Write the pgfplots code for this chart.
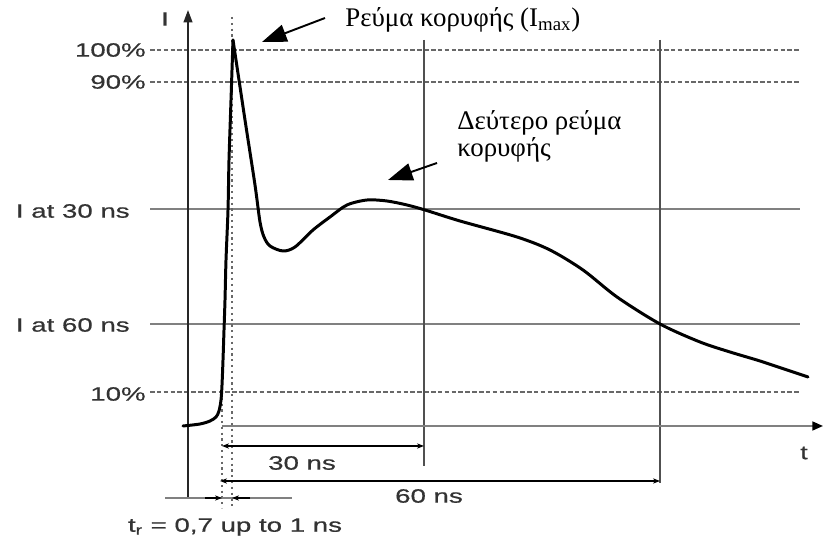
\documentclass[border=0pt]{standalone}
\usepackage{pgfplots}
\pgfplotsset{compat=1.18}
\usepackage{fontspec}
\setmainfont{Liberation Sans}
\newfontfamily\widesans[FakeStretch=1.43,FakeBold=0.6]{Liberation Sans}
\newfontfamily\grserif{Liberation Serif}
\usetikzlibrary{arrows.meta}
\definecolor{dashg}{HTML}{686868}
\definecolor{lineg}{HTML}{808080}
\definecolor{vertg}{HTML}{505050}
\definecolor{labg}{HTML}{333333}
\begin{document}
\begin{tikzpicture}
\begin{axis}[
  width=16.5cm, height=10.84cm, scale only axis,
  xmin=0, xmax=825, ymin=0, ymax=542, y dir=reverse,
  hide axis, clip=false,
]
% reference horizontal lines
\addplot[dashg, line width=0.7pt, dash pattern=on 2.6pt off 1.3pt] coordinates {(150,50) (800,50)};
\addplot[dashg, line width=0.7pt, dash pattern=on 2.6pt off 1.3pt] coordinates {(150,82) (800,82)};
\addplot[dashg, line width=0.7pt, dash pattern=on 2.6pt off 1.3pt] coordinates {(150,392) (800,392)};
\addplot[lineg, line width=1.1pt] coordinates {(150,209) (800,209)};
\addplot[lineg, line width=1.1pt] coordinates {(150,324) (800,324)};
% vertical lines at 30 ns and 60 ns
\addplot[vertg, line width=1.6pt] coordinates {(424,40) (424,466)};
\addplot[vertg, line width=1.6pt] coordinates {(660,40) (660,483)};
% dotted rise-time markers
\addplot[dashg, line width=1.3pt, dotted] coordinates {(232,17) (232,508)};
\addplot[dashg, line width=1.3pt, dotted] coordinates {(222,392) (222,508)};
% axes
\addplot[black!85, line width=0.9pt, -{Triangle[length=7pt,width=5pt]}] coordinates {(188,498) (188,10)};
\addplot[lineg, line width=1.1pt, -{Triangle[length=6pt,width=5pt,black]}] coordinates {(222,426) (823,426)};
% rise-time bracket
\addplot[lineg, line width=0.8pt] coordinates {(165,498) (292,498)};
\addplot[black, line width=0.6pt, -{Stealth[length=4pt,width=3pt]}] coordinates {(205,498) (222,498)};
\addplot[black, line width=0.6pt, -{Stealth[length=4pt,width=3pt]}] coordinates {(250,498) (232,498)};
% 30 ns and 60 ns spans
\addplot[black, line width=1.1pt, {Stealth[length=4pt,width=3pt]}-{Stealth[length=4pt,width=3pt]}] coordinates {(222,446) (424,446)};
\addplot[black, line width=1.1pt, {Stealth[length=4pt,width=3pt]}-{Stealth[length=4pt,width=3pt]}] coordinates {(220,481) (660,481)};
% current waveform: rising edge
\addplot[black, line width=1.7pt, line join=round, line cap=round, smooth, tension=0.5] coordinates {
(183,426) (200,424) (210,421) (216,417) (219,411) (221,400) (222,385) (223,360)
(224,330) (225,300) (226,260) (228,210) (229,160) (231,100) (233,40)
};
% current waveform: decay
\addplot[black, line width=1.7pt, line join=round, line cap=round, smooth, tension=0.5] coordinates {
(233,40) (245,120) (255,185) (260,222) (264,237) (270,246) (283,251) (295,247)
(313,230) (330,217) (347,205) (367,200) (387,201) (407,205) (425,210) (460,221)
(517,237) (550,250) (583,270) (617,297) (660,324) (700,342)
(730,352) (760,361) (790,371) (808,377)
};
% annotation arrows
\addplot[black, line width=1.1pt, -{Triangle[length=14pt,width=10pt]}] coordinates {(325,18) (262,42)};
\addplot[black, line width=1.1pt, -{Triangle[length=14pt,width=10pt]}] coordinates {(437,163) (388,180)};
% labels
\begin{scope}[font=\widesans\fontsize{11}{13}\selectfont, text=labg]
\node[anchor=east, inner sep=0pt] at (axis cs:146,50) {100\%};
\node[anchor=east, inner sep=0pt] at (axis cs:146,82) {90\%};
\node[anchor=east, inner sep=0pt] at (axis cs:130,211) {I at 30 ns};
\node[anchor=east, inner sep=0pt] at (axis cs:130,325) {I at 60 ns};
\node[anchor=east, inner sep=0pt] at (axis cs:146,394) {10\%};
\node[inner sep=0pt] at (axis cs:165,19) {I};
\node[inner sep=0pt] at (axis cs:804,453) {t};
\node[inner sep=0pt] at (axis cs:302,463) {30 ns};
\node[inner sep=0pt] at (axis cs:429,496) {60 ns};
\node[inner sep=0pt] at (axis cs:235,527) {t\textsubscript{r} = 0,7 up to 1 ns};
\end{scope}
\begin{scope}[font=\grserif\fontsize{15.3}{18}\selectfont, text=black]
\node[anchor=base west, inner sep=0pt] at (axis cs:345,27) {Ρεύμα κορυφής (I\textsubscript{max})};
\node[anchor=base west, inner sep=0pt] at (axis cs:457,130) {Δεύτερο ρεύμα};
\node[anchor=base west, inner sep=0pt] at (axis cs:457,157) {κορυφής};
\end{scope}
\end{axis}
\pgfresetboundingbox
\path (current axis.south west) rectangle (current axis.north east);
\end{tikzpicture}
\end{document}
